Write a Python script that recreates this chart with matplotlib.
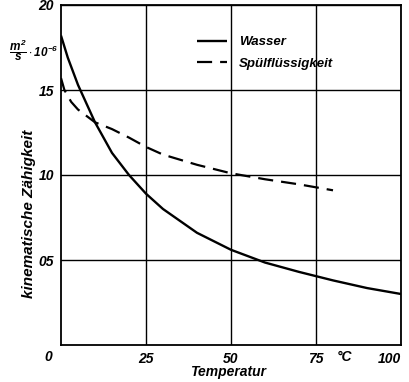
import matplotlib
matplotlib.use("Agg")
import matplotlib.pyplot as plt
from matplotlib.lines import Line2D
import matplotlib.transforms as mtransforms

# ---- data (kinematic viscosity in 10^-6 m^2/s) ----
wasser_t = [0, 2, 5, 10, 15, 20, 25, 30, 40, 50, 60, 70, 80, 90, 100]
wasser_nu = [1.82, 1.69, 1.53, 1.31, 1.13, 1.00, 0.89, 0.80, 0.66, 0.56, 0.485, 0.43, 0.38, 0.335, 0.30]

spuel_t = [0, 1, 3, 5, 10, 15, 20, 25, 30, 40, 50, 60, 70, 80]
spuel_nu = [1.57, 1.50, 1.43, 1.385, 1.31, 1.27, 1.22, 1.165, 1.12, 1.06, 1.01, 0.975, 0.945, 0.91]

x_ticks = [25, 50, 75, 100]
x_ticklabels = ["25", "50", "75", "100"]
y_ticks = [0.5, 1.0, 1.5, 2.0]
y_ticklabels = ["05", "10", "15", "20"]
labels = ["Wasser", "Spülflüssigkeit"]

FONT = ["Liberation Sans", "DejaVu Sans"]
plt.rcParams["font.family"] = FONT
plt.rcParams["mathtext.fontset"] = "custom"
plt.rcParams["mathtext.rm"] = "Liberation Sans:italic:bold"
plt.rcParams["mathtext.it"] = "Liberation Sans:italic:bold"
plt.rcParams["mathtext.bf"] = "Liberation Sans:italic:bold"

FS = 10
TXT = dict(fontstyle="italic", fontweight="bold")

fig = plt.figure(figsize=(4.09, 3.82), dpi=100)
ax = fig.add_axes([61 / 409, 1 - 345 / 382, 340 / 409, 340 / 382])

ax.set_xlim(0, 100)
ax.set_ylim(0, 2.0)

l1, = ax.plot(wasser_t, wasser_nu, color="black", lw=1.7, solid_capstyle="butt")
l2, = ax.plot(spuel_t, spuel_nu, color="black", lw=1.6, dashes=(6.8, 3.6))

ax.set_xticks(x_ticks)
ax.set_xticklabels(x_ticklabels)
ax.set_yticks(y_ticks)
ax.set_yticklabels(y_ticklabels)
ax.tick_params(axis="x", length=0, labelsize=FS, pad=5)
ax.tick_params(axis="y", length=0, labelsize=FS, pad=5)
for t in ax.get_xticklabels() + ax.get_yticklabels():
    t.set_fontstyle("italic")
    t.set_fontweight("bold")
ax.get_xticklabels()[-1].set_horizontalalignment("right")

ax.grid(True, color="black", lw=1.0)
ax.set_axisbelow(True)
for s in ax.spines.values():
    s.set_linewidth(1.3)

# corner zero and unit
ax.text(-0.025, -0.015, "0", transform=ax.transAxes, ha="right", va="top",
        fontsize=FS, **TXT)
trans = mtransforms.blended_transform_factory(ax.transData, ax.transAxes)
ax.text(83.5, -0.015, "°C", transform=trans, ha="center", va="top",
        fontsize=FS, **TXT)

# axis labels
fig.text(228 / 409, 1 - 372 / 382, "Temperatur", ha="center", va="center",
         fontsize=10, **TXT)
fig.text(29 / 409, 1 - 214 / 382, "kinematische Zähigkeit", rotation=90,
         ha="center", va="center", fontsize=11, **TXT)
fig.text(34 / 409, 1 - 50 / 382, r"$\dfrac{m^2}{s}\cdot10^{-6}$", ha="center", va="center",
         fontsize=8.5)

leg = ax.legend([l1, l2], labels, loc="upper left", bbox_to_anchor=(0.387, 0.92),
                frameon=False, handlelength=2.3, handletextpad=0.9, labelspacing=0.7,
                borderpad=0.3, borderaxespad=0,
                prop={"family": FONT, "style": "italic", "weight": "bold", "size": 9.5})

fig.savefig("out.png", dpi=100)
